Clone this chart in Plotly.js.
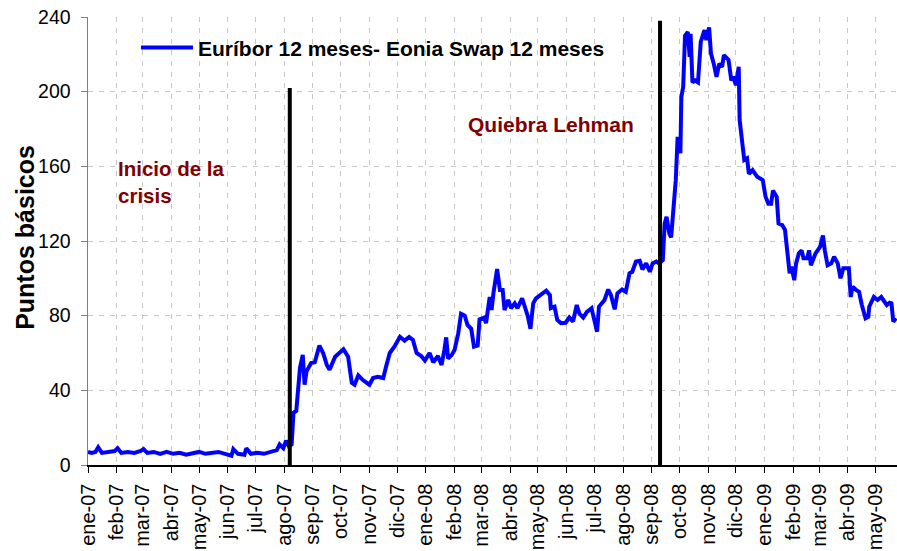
<!DOCTYPE html>
<html>
<head>
<meta charset="utf-8">
<script src="https://cdn.plot.ly/plotly-3.0.1.min.js"></script>
<style>
  html, body { margin: 0; padding: 0; background: #ffffff; overflow: hidden; }
  #chart { width: 897px; height: 551px; }
</style>
</head>
<body>
<div id="chart"></div>
<script>
// ---- Data ----
const fechas = [
  '2007-01-01','2007-01-05','2007-01-09','2007-01-12','2007-01-16','2007-01-23','2007-01-30','2007-02-02','2007-02-06','2007-02-13',
  '2007-02-20','2007-02-27','2007-03-02','2007-03-06','2007-03-13','2007-03-20','2007-03-27','2007-04-03','2007-04-10','2007-04-17',
  '2007-04-24','2007-05-01','2007-05-08','2007-05-15','2007-05-22','2007-05-29','2007-06-05','2007-06-07','2007-06-12','2007-06-19',
  '2007-06-21','2007-06-26','2007-07-03','2007-07-10','2007-07-17','2007-07-24','2007-07-27','2007-07-31','2007-08-03','2007-08-06',
  '2007-08-09','2007-08-11','2007-08-14','2007-08-18','2007-08-21','2007-08-23','2007-08-25','2007-08-30','2007-09-03','2007-09-08',
  '2007-09-12','2007-09-16','2007-09-19','2007-09-25','2007-10-04','2007-10-09','2007-10-13','2007-10-16','2007-10-20','2007-10-25',
  '2007-11-01','2007-11-05','2007-11-10','2007-11-16','2007-11-19','2007-11-23','2007-11-28','2007-12-04','2007-12-09','2007-12-14',
  '2007-12-18','2007-12-22','2007-12-27','2007-12-31','2008-01-05','2008-01-09','2008-01-14','2008-01-18','2008-01-21','2008-01-23',
  '2008-01-25','2008-01-29','2008-02-01','2008-02-05','2008-02-08','2008-02-12','2008-02-15','2008-02-19','2008-02-22','2008-02-26',
  '2008-02-28','2008-03-04','2008-03-06','2008-03-08','2008-03-10','2008-03-12','2008-03-14','2008-03-18','2008-03-21','2008-03-24',
  '2008-03-26','2008-03-30','2008-04-02','2008-04-06','2008-04-09','2008-04-14','2008-04-18','2008-04-20','2008-04-23','2008-04-26',
  '2008-04-29','2008-05-03','2008-05-07','2008-05-10','2008-05-14','2008-05-15','2008-05-19','2008-05-22','2008-05-26','2008-05-31',
  '2008-06-04','2008-06-08','2008-06-12','2008-06-15','2008-06-19','2008-06-23','2008-06-28','2008-07-01','2008-07-04','2008-07-06',
  '2008-07-09','2008-07-12','2008-07-16','2008-07-19','2008-07-23','2008-07-26','2008-07-31','2008-08-04','2008-08-08','2008-08-11',
  '2008-08-15','2008-08-19','2008-08-22','2008-08-26','2008-08-30','2008-09-02','2008-09-06','2008-09-09','2008-09-13','2008-09-15',
  '2008-09-17','2008-09-20','2008-09-22','2008-09-24','2008-09-27','2008-09-29','2008-10-02','2008-10-03','2008-10-05','2008-10-07',
  '2008-10-10','2008-10-12','2008-10-13','2008-10-15','2008-10-18','2008-10-21','2008-10-22','2008-10-24','2008-10-28','2008-10-30',
  '2008-11-02','2008-11-04','2008-11-07','2008-11-10','2008-11-13','2008-11-16','2008-11-18','2008-11-23','2008-11-26','2008-11-28',
  '2008-12-01','2008-12-04','2008-12-05','2008-12-08','2008-12-10','2008-12-13','2008-12-15','2008-12-19','2008-12-24','2008-12-30',
  '2009-01-02','2009-01-05','2009-01-08','2009-01-10','2009-01-14','2009-01-16','2009-01-20','2009-01-23','2009-01-28','2009-01-30',
  '2009-02-02','2009-02-04','2009-02-07','2009-02-10','2009-02-12','2009-02-16','2009-02-18','2009-02-20','2009-02-22','2009-02-25',
  '2009-03-02','2009-03-05','2009-03-07','2009-03-10','2009-03-14','2009-03-17','2009-03-21','2009-03-24','2009-03-27','2009-04-02',
  '2009-04-04','2009-04-06','2009-04-10','2009-04-13','2009-04-16','2009-04-20','2009-04-23','2009-04-24','2009-04-29','2009-05-03',
  '2009-05-07','2009-05-10','2009-05-13','2009-05-16','2009-05-18','2009-05-20','2009-05-23'
];

const diferencial = [
  7, 6.5, 7, 9.5, 6.5, 7, 7.5, 9, 6.5, 7,
  6.5, 7.5, 8.5, 6.5, 7, 6, 7, 6, 6.5, 5.5,
  6.5, 7, 6, 6.5, 7, 6, 5, 8.5, 6, 5.5,
  9, 6, 6.5, 6, 7, 8, 11, 9, 13, 10,
  11, 28, 29, 52, 59, 43, 50, 54.6, 55, 64,
  60, 53.6, 51, 58, 62, 58, 44, 43, 48, 45.5,
  43, 46.6, 47.3, 46.6, 52.6, 60, 63.4, 68.7, 66.6, 68.6,
  67, 60, 58.4, 56, 60, 55, 58.4, 53.6, 61.6, 68.4,
  57, 59, 61.6, 70.5, 81, 80, 75, 73, 63.4, 64,
  78, 79, 76, 83, 90, 83, 92, 105, 93.7, 93.7,
  83, 88.4, 84, 86.6, 84, 89.3, 83, 80, 73, 86.6,
  89.3, 91, 92, 93.4, 91, 84, 84.8, 77.7, 76, 76.2,
  79, 76.8, 85.7, 81, 79, 82, 84, 78.6, 71.4, 84.8,
  86.6, 88.4, 94, 91, 83.4, 92, 94, 92.8, 102.7, 103.5,
  109, 109.4, 104.8, 108, 103.5, 108, 109, 108, 109.8, 129.4,
  133, 124, 122, 134.8, 152.6, 175.8, 167, 197, 202.6, 230,
  232, 218.7, 231, 205, 206, 205, 215, 226.7, 233, 227.6,
  234.4, 220.5, 215, 208, 215, 213.3, 219.6, 217, 206, 208,
  203.5, 213.3, 184.8, 174, 163.4, 164.3, 156, 158, 154.4, 152.6,
  143.7, 140, 140, 147, 143.7, 129.4, 128.5, 125.9, 102.7, 106.2,
  99, 108, 113.4, 115, 110.7, 110.7, 115, 107, 109.8, 113.4,
  117, 123, 115, 107, 108, 111.6, 108, 100, 105.4, 105.4,
  90, 95.5, 93.7, 92.8, 85.7, 78.6, 79.4, 84.8, 90, 88.4,
  90, 87.5, 85.7, 86.9, 86.6, 76.8, 78.6
];

const mesesTicks = [
  '2007-01-01','2007-02-01','2007-03-01','2007-04-01','2007-05-01','2007-06-01','2007-07-01','2007-08-01','2007-09-01','2007-10-01',
  '2007-11-01','2007-12-01','2008-01-01','2008-02-01','2008-03-01','2008-04-01','2008-05-01','2008-06-01','2008-07-01','2008-08-01',
  '2008-09-01','2008-10-01','2008-11-01','2008-12-01','2009-01-01','2009-02-01','2009-03-01','2009-04-01','2009-05-01'
];
const etiquetasMes = [
  'ene-07','feb-07','mar-07','abr-07','may-07','jun-07','jul-07','ago-07','sep-07','oct-07',
  'nov-07','dic-07','ene-08','feb-08','mar-08','abr-08','may-08','jun-08','jul-08','ago-08',
  'sep-08','oct-08','nov-08','dic-08','ene-09','feb-09','mar-09','abr-09','may-09'
];

const eventosFecha = ['2007-08-07', '2008-09-10'];
const eventosTope = [202, 238];

const serieNombre = 'Euríbor 12 meses- Eonia Swap 12 meses';
const tituloY = 'Puntos básicos';
const textoCrisis = 'Inicio de la<br>crisis';
const textoLehman = 'Quiebra Lehman';

// ---- Chart ----
const FONT = '"Liberation Sans", Arial, Helvetica, sans-serif';

const trace = {
  x: fechas,
  y: diferencial,
  type: 'scatter',
  mode: 'lines',
  name: serieNombre,
  line: { color: '#0000FF', width: 4 },
  hoverinfo: 'skip'
};

const shapes = eventosFecha.map((f, i) => ({
  type: 'line', xref: 'x', yref: 'y',
  x0: f, x1: f, y0: 0, y1: eventosTope[i],
  line: { color: '#000000', width: 4 }
}));

const layout = {
  width: 897,
  height: 551,
  margin: { l: 88, r: 0, t: 17, b: 86 },
  paper_bgcolor: '#ffffff',
  plot_bgcolor: '#ffffff',
  font: { family: FONT, color: '#000000' },
  showlegend: true,
  legend: {
    x: 0.0593, y: 0.931, xanchor: 'left', yanchor: 'middle',
    bgcolor: 'rgba(0,0,0,0)', borderwidth: 0,
    itemwidth: 52,
    font: { family: FONT, size: 21, weight: 'bold', color: '#000000' }
  },
  xaxis: {
    type: 'date',
    range: ['2007-01-01', '2009-05-24'],
    tickmode: 'array',
    tickvals: mesesTicks,
    ticktext: etiquetasMes,
    tickangle: -90,
    tickfont: { family: FONT, size: 20, color: '#000000' },
    ticks: 'outside', ticklen: 6, tickcolor: '#000000', tickwidth: 1,
    ticklabelstandoff: 3,
    showline: true, linecolor: '#000000', linewidth: 1.5,
    showgrid: true, gridcolor: '#c8c8c8', gridwidth: 1, griddash: '5px,6px',
    zeroline: false,
    fixedrange: true
  },
  yaxis: {
    range: [0, 240],
    tickvals: [0, 40, 80, 120, 160, 200, 240],
    tickfont: { family: FONT, size: 19.5, color: '#000000' },
    ticks: 'outside', ticklen: 6, tickcolor: '#808080', tickwidth: 1,
    ticklabelstandoff: 6,
    showline: true, linecolor: '#808080', linewidth: 1.5,
    showgrid: true, gridcolor: '#c8c8c8', gridwidth: 1, griddash: '5px,6px',
    zeroline: false,
    fixedrange: true
  },
  shapes: shapes,
  annotations: [
    {
      xref: 'paper', yref: 'paper', x: -0.078, y: 0.509,
      xanchor: 'center', yanchor: 'middle', textangle: -90,
      text: tituloY, showarrow: false,
      font: { family: FONT, size: 25, weight: 'bold', color: '#000000' }
    },
    {
      xref: 'paper', yref: 'paper', x: 0.0345, y: 0.632,
      xanchor: 'left', yanchor: 'middle', align: 'left',
      text: textoCrisis, showarrow: false,
      font: { family: FONT, size: 20.5, weight: 'bold', color: '#800000' }
    },
    {
      xref: 'paper', yref: 'paper', x: 0.4672, y: 0.759,
      xanchor: 'left', yanchor: 'middle', align: 'left',
      text: textoLehman, showarrow: false,
      font: { family: FONT, size: 21, weight: 'bold', color: '#800000' }
    }
  ]
};

Plotly.newPlot('chart', [trace], layout, { staticPlot: true, displayModeBar: false });
</script>
</body>
</html>
